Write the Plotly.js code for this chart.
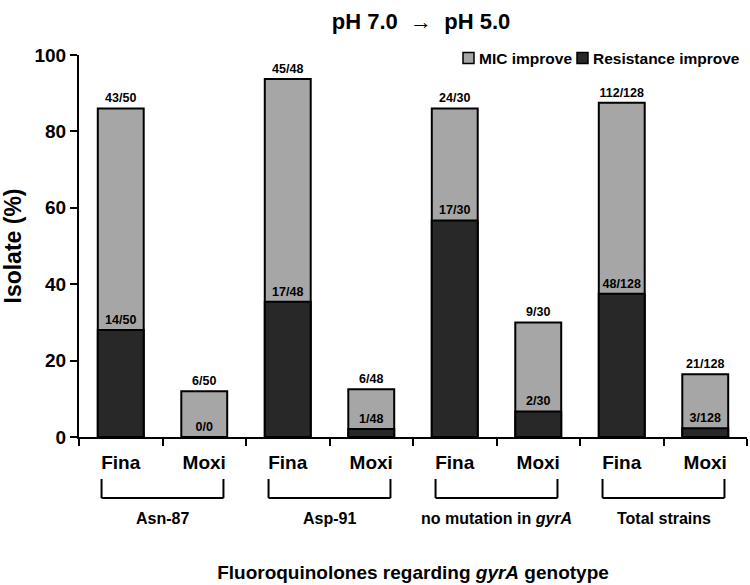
<!DOCTYPE html>
<html>
<head>
<meta charset="utf-8">
<script src="https://cdn.plot.ly/plotly-3.0.1.min.js"></script>
<style>html,body{margin:0;padding:0;background:#fff;}#chart{width:750px;height:585px;}</style>
</head>
<body>
<div id="chart"></div>
<script>
// ---- data ----
const categories = ["Asn-87 Fina", "Asn-87 Moxi", "Asp-91 Fina", "Asp-91 Moxi",
                    "No mutation Fina", "No mutation Moxi", "Total Fina", "Total Moxi"];
const tickLabels = ["Fina", "Moxi", "Fina", "Moxi", "Fina", "Moxi", "Fina", "Moxi"];
const groupLabels = ["Asn-87", "Asp-91", "no mutation in <i>gyrA</i>", "Total strains"];
const micImprove = [86, 12, 93.75, 12.5, 86, 30, 87.5, 16.4];
const resistanceImprove = [28, 0, 35.4, 2.1, 56.7, 6.7, 37.5, 2.3];
const micLabels = ["43/50", "6/50", "45/48", "6/48", "24/30", "9/30", "112/128", "21/128"];
const resistanceLabels = ["14/50", "0/0", "17/48", "1/48", "17/30", "2/30", "48/128", "3/128"];
const seriesNames = ["MIC improve", "Resistance improve"];
const yTicks = [0, 20, 40, 60, 80, 100];

// ---- styling ----
const FONT = "Liberation Sans, Arial, Helvetica, sans-serif";
const LIGHT = "#a6a6a6";
const DARK = "#282828";
const W = 750, H = 585;
const M = {l: 79, r: 3, t: 55, b: 148};
const PW = W - M.l - M.r, PH = H - M.t - M.b;
const px2x = p => (p - M.l) / PW;
const px2y = p => (H - M.b - p) / PH;

const barText = {family: FONT, size: 12.5, color: "#000", weight: "bold"};

const traces = [
  {
    type: "bar", name: seriesNames[0], x: categories, y: micImprove,
    marker: {color: LIGHT, line: {color: "#000", width: 2}},
    text: micLabels, textposition: "outside", textfont: barText,
    cliponaxis: false, hoverinfo: "skip"
  },
  {
    type: "bar", name: seriesNames[1], x: categories, y: resistanceImprove,
    marker: {color: DARK, line: {color: "#000", width: 2}},
    text: resistanceLabels, textposition: "outside", textfont: barText,
    cliponaxis: false, hoverinfo: "skip"
  }
];

// group brackets and labels
const shapes = [];
const annotations = [];
const bt = px2y(479), bb = px2y(498);
groupLabels.forEach((g, i) => {
  const a = 2 * i - 0.23, b = 2 * i + 1 + 0.23;
  const line = {color: "#000", width: 2};
  shapes.push({type: "line", xref: "x", yref: "paper", x0: a, x1: a, y0: bt, y1: bb, line});
  shapes.push({type: "line", xref: "x", yref: "paper", x0: a, x1: b, y0: bb, y1: bb, line});
  shapes.push({type: "line", xref: "x", yref: "paper", x0: b, x1: b, y0: bt, y1: bb, line});
  annotations.push({
    xref: "x", yref: "paper", x: 2 * i + 0.5, y: px2y(518), yanchor: "middle",
    text: g, showarrow: false,
    font: {family: FONT, size: 16, color: "#000", weight: "bold"}
  });
});

// legend (drawn as shapes + text)
const legendItems = [
  {name: seriesNames[0], color: LIGHT, sq: 463, tx: 477},
  {name: seriesNames[1], color: DARK, sq: 577, tx: 591}
];
legendItems.forEach(it => {
  shapes.push({
    type: "rect", xref: "paper", yref: "paper",
    x0: px2x(it.sq), x1: px2x(it.sq + 11), y0: px2y(63.5), y1: px2y(52.5),
    fillcolor: it.color, line: {color: "#000", width: 1.5}
  });
  annotations.push({
    xref: "paper", yref: "paper", x: px2x(it.tx), y: px2y(58),
    xanchor: "left", yanchor: "middle", showarrow: false, text: it.name,
    font: {family: FONT, size: 15.5, color: "#000", weight: "bold"}
  });
});

const layout = {
  width: W, height: H,
  margin: {l: M.l, r: M.r, t: M.t, b: M.b, pad: 0},
  paper_bgcolor: "#fff", plot_bgcolor: "#fff",
  font: {family: FONT, color: "#000"},
  showlegend: false,
  barmode: "overlay",
  bargap: 0.45,
  title: {
    text: "pH 7.0 \u00a0\u2192\u00a0 pH 5.0",
    font: {family: FONT, size: 22, color: "#000", weight: "bold"},
    x: 421 / W, xanchor: "center", xref: "container",
    y: 1 - 21 / H, yanchor: "middle", yref: "container"
  },
  xaxis: {
    type: "category", range: [-0.5, 7.5],
    tickmode: "array", tickvals: categories, ticktext: tickLabels,
    tickson: "boundaries", ticks: "outside", ticklen: 7, tickwidth: 2, tickcolor: "#000",
    ticklabelstandoff: 7,
    showline: true, linewidth: 2, linecolor: "#000", showgrid: false, zeroline: false,
    tickfont: {family: FONT, size: 19, color: "#000", weight: "bold"},
    title: {
      text: "Fluoroquinolones regarding <i>gyrA</i> genotype",
      font: {family: FONT, size: 19, color: "#000", weight: "bold"},
      standoff: 94
    },
    fixedrange: true
  },
  yaxis: {
    range: [0, 100], tickmode: "array", tickvals: yTicks,
    ticks: "outside", ticklen: 7, tickwidth: 2, tickcolor: "#000",
    showline: true, linewidth: 2, linecolor: "#000", showgrid: false, zeroline: false,
    tickfont: {family: FONT, size: 19, color: "#000", weight: "bold"},
    title: {
      text: "Isolate (%)",
      font: {family: FONT, size: 23, color: "#000", weight: "bold"},
      standoff: 17
    },
    fixedrange: true
  },
  shapes, annotations
};

Plotly.newPlot("chart", traces, layout, {staticPlot: true, displayModeBar: false});
</script>
</body>
</html>
